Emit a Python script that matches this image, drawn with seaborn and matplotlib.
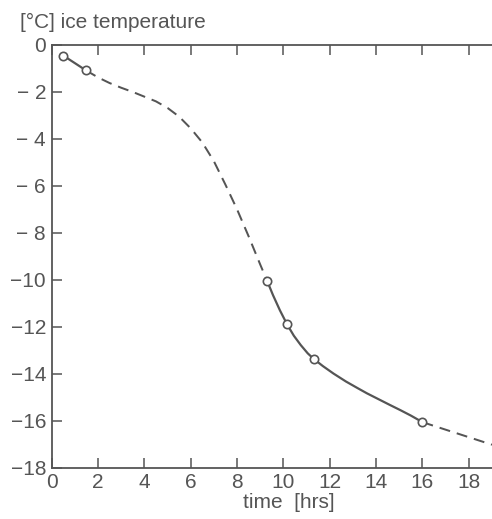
import matplotlib
matplotlib.use("Agg")
import matplotlib.pyplot as plt
import seaborn as sns

# measured points (open circles)
meas_x = [0.5, 1.48, 9.3, 10.16, 11.3, 16.0]
meas_y = [-0.45, -1.08, -10.05, -11.9, -13.36, -16.06]

# curve, by segment
solid1_x = [0.5, 1.48]
solid1_y = [-0.45, -1.08]
dash1_x = [1.48, 2.0, 2.5, 3.0, 3.5, 4.0, 4.5, 5.0, 5.5, 6.0, 6.5, 7.0, 7.5, 8.0, 8.5, 9.0, 9.3]
dash1_y = [-1.08, -1.38, -1.62, -1.82, -2.0, -2.2, -2.4, -2.68, -3.05, -3.55, -4.15, -4.95, -5.95, -7.0, -8.15, -9.35, -10.05]
solid2_x = [9.3, 9.55, 9.85, 10.16, 10.45, 10.75, 11.05, 11.3, 11.7, 12.16, 12.7, 13.2, 13.6, 14.1, 14.6, 15.05, 15.5, 16.0]
solid2_y = [-10.05, -10.65, -11.3, -11.9, -12.38, -12.78, -13.13, -13.36, -13.67, -13.99, -14.33, -14.61, -14.83, -15.08, -15.33, -15.55, -15.78, -16.06]
dash2_x = [16.0, 17.0, 18.0, 19.0]
dash2_y = [-16.06, -16.38, -16.7, -17.02]

xticks = [0, 2, 4, 6, 8, 10, 12, 14, 16, 18]
xtick_labels = ["0", "2", "4", "6", "8", "10", "12", "14", "16", "18"]
yticks = [0, -2, -4, -6, -8, -10, -12, -14, -16, -18]
ytick_labels = ["0", "\u2212 2", "\u2212 4", "\u2212 6", "\u2212 8", "\u221210", "\u221212", "\u221214", "\u221216", "\u221218"]

ylabel_text = "[°C] ice temperature"
xlabel_text = "time  [hrs]"

sns.set_style("ticks")
plt.rcParams["font.family"] = ["Liberation Sans", "DejaVu Sans"]
C = "#555555"

fig = plt.figure(figsize=(4.92, 5.19), dpi=100)
ax = fig.add_axes([0.105, 0.0988, 0.895, 0.8145])

lw = 1.6
sns.lineplot(x=solid1_x, y=solid1_y, ax=ax, color=C, lw=lw, sort=False)
sns.lineplot(x=dash1_x, y=dash1_y, ax=ax, color=C, lw=lw * 0.9, sort=False)
ax.lines[-1].set_dashes((5.5, 3.5))
sns.lineplot(x=solid2_x, y=solid2_y, ax=ax, color=C, lw=lw, sort=False)
sns.lineplot(x=dash2_x, y=dash2_y, ax=ax, color=C, lw=lw * 0.9, sort=False)
ax.lines[-1].set_dashes((5.5, 3.5))
for ln in ax.lines:
    ln.set_solid_joinstyle("round")
    ln.set_dash_joinstyle("round")
sns.scatterplot(x=meas_x, y=meas_y, ax=ax, s=36, facecolor="white",
                edgecolor=C, linewidth=1.2, zorder=5)

ax.set_xlim(0, 19)
ax.set_ylim(-18, 0)
ax.set_xticks(xticks, labels=xtick_labels)
ax.set_yticks(yticks, labels=ytick_labels)
ax.tick_params(direction="in", length=7, width=1.1, color=C, labelcolor=C,
               labelsize=15, top=True, right=False)
ax.tick_params(axis="x", pad=4)
ax.tick_params(axis="y", pad=4)
ax.spines["right"].set_visible(False)
for s in ["left", "top", "bottom"]:
    ax.spines[s].set_color(C)
    ax.spines[s].set_linewidth(1.3)
ax.set_xlabel("")
ax.set_ylabel("")

fig.text(20 / 492, 1 - 28 / 519, ylabel_text, ha="left", va="baseline",
         fontsize=15, color=C)
fig.text(289 / 492, 1 - 502 / 519, xlabel_text, ha="center", va="center",
         fontsize=15, color=C)

fig.savefig("out.png", dpi=100)
